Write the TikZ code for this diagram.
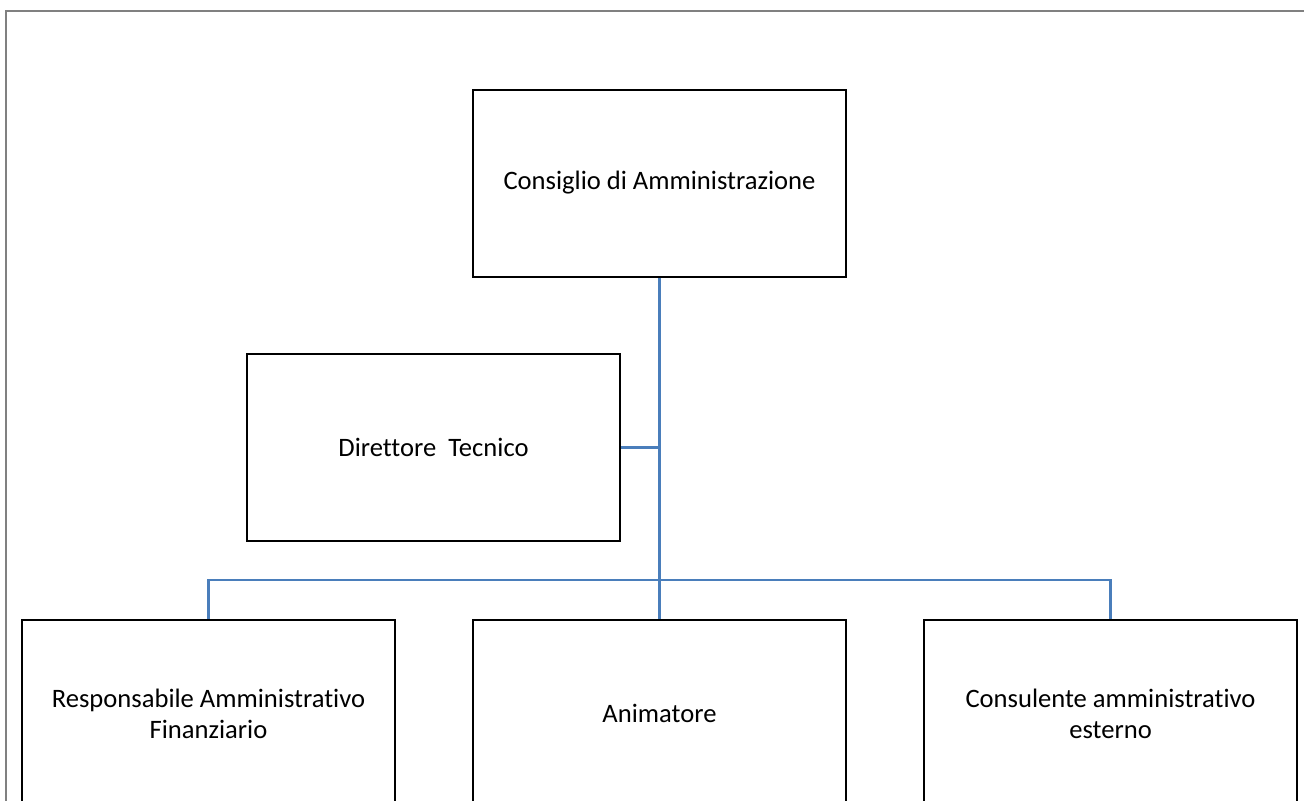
\documentclass[tikz,border=0pt]{standalone}
\usepackage{fontspec}
\setmainfont{Carlito}[Ligatures=NoCommon]
\usepackage{xcolor}
\usetikzlibrary{positioning}

\definecolor{linkblue}{HTML}{4A7EBB}
\definecolor{framegray}{HTML}{808080}

\tikzset{
  orgbox/.style={draw=black, line width=1pt, fill=white, align=center,
    minimum width=186.5pt, minimum height=93.5pt, inner sep=0pt,
    font=\fontsize{13.3}{15.5}\selectfont},
  link/.style={draw=linkblue, line width=1.3pt}
}

\begin{document}
\begin{tikzpicture}[x=0.5pt, y=-0.5pt]
  \useasboundingbox (0,0) rectangle (1304,800);
  \clip (0,0) rectangle (1304,800);

  % Page frame
  \draw[framegray, line width=1pt] (6,11) rectangle (1320,820);

  % Boxes
  \node[orgbox] (cda) at (659.5,183) {Consiglio di Amministrazione};
  \node[orgbox] (dt) at (433.5,447.5) {Direttore~~Tecnico};
  \node[orgbox] (raf) at (208.5,713.5) {Responsabile Amministrativo\\Finanziario};
  \node[orgbox] (anim) at (659.5,713.5) {Animatore};
  \node[orgbox] (cae) at (1110.5,713.5) {Consulente amministrativo\\esterno};

  % Connectors
  \coordinate (bus) at (659.5,580);
  \draw[link] (cda.south) -- (anim.north);
  \draw[link] (dt.east) -- (dt.east -| cda.south);
  \draw[link] (raf.north) |- (bus) -| (cae.north);
\end{tikzpicture}
\end{document}
